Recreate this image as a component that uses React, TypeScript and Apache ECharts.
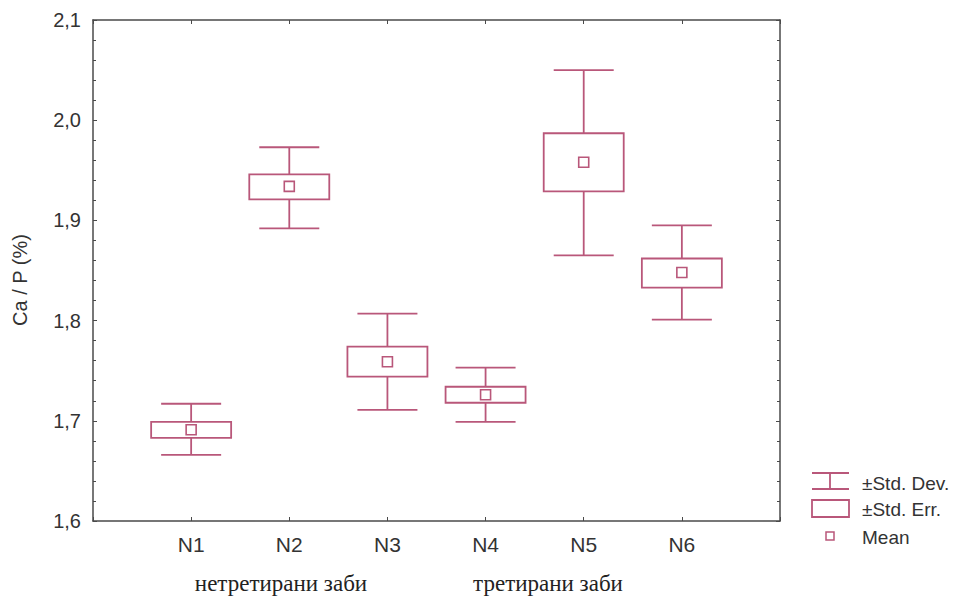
import React, { useEffect, useRef } from "react";
import * as echarts from "echarts";

const categories = ["N1", "N2", "N3", "N4", "N5", "N6"];
const sdLow = [1.666, 1.892, 1.711, 1.699, 1.865, 1.801];
const seLow = [1.683, 1.921, 1.744, 1.718, 1.929, 1.833];
const means = [1.691, 1.934, 1.759, 1.726, 1.958, 1.848];
const seHigh = [1.699, 1.946, 1.774, 1.734, 1.987, 1.862];
const sdHigh = [1.717, 1.973, 1.807, 1.753, 2.05, 1.895];
const groupLabels = ["нетретирани заби", "третирани заби"];
const legendLabels = ["±Std. Dev.", "±Std. Err.", "Mean"];

const COLOR = "#b9577a";
const AXIS = "#4a4a4a";

export default function App() {
  const ref = useRef<HTMLDivElement>(null);
  useEffect(() => {
    if (!ref.current) return;
    const chart = echarts.init(ref.current, null, { renderer: "svg" });
    const data = categories.map((_, i) => [i + 1, sdLow[i], seLow[i], means[i], seHigh[i], sdHigh[i]]);
    const fmtY = (v: number) => v.toFixed(1).replace(".", ",");
    const font = "Liberation Sans";
    chart.setOption({
      animation: false,
      backgroundColor: "#fff",
      grid: { left: 93, right: 177, top: 20, bottom: 77, containLabel: false },
      xAxis: [
        {
          type: "value", position: "bottom", min: 0, max: 7, interval: 1,
          axisLine: { show: true, onZero: false, lineStyle: { color: AXIS, width: 1.5 } },
          axisTick: { show: true, inside: true, length: 4, lineStyle: { color: AXIS } },
          axisLabel: {
            margin: 13, fontSize: 21, color: "#333", fontFamily: font,
            formatter: (v: number) => (v >= 1 && v <= 6 ? categories[v - 1] : ""),
          },
          splitLine: { show: false },
        },
        {
          type: "value", position: "top", min: 0, max: 7, interval: 1,
          axisLine: { show: true, onZero: false, lineStyle: { color: AXIS, width: 1.5 } },
          axisTick: { show: true, inside: true, length: 4, lineStyle: { color: AXIS } },
          axisLabel: { show: false },
          splitLine: { show: false },
        },
      ],
      yAxis: [
        {
          type: "value", position: "left", min: 1.6, max: 2.1, interval: 0.1,
          axisLine: { show: true, onZero: false, lineStyle: { color: AXIS, width: 1.5 } },
          axisTick: { show: true, inside: true, length: 4, lineStyle: { color: AXIS } },
          minorTick: { show: true, splitNumber: 5, length: 3, lineStyle: { color: AXIS } },
          axisLabel: { margin: 12, fontSize: 20, color: "#333", fontFamily: font, formatter: fmtY },
          splitLine: { show: false },
        },
        {
          type: "value", position: "right", min: 1.6, max: 2.1, interval: 0.1,
          axisLine: { show: true, onZero: false, lineStyle: { color: AXIS, width: 1.5 } },
          axisTick: { show: true, inside: true, length: 4, lineStyle: { color: AXIS } },
          minorTick: { show: true, splitNumber: 5, length: 3, lineStyle: { color: AXIS } },
          axisLabel: { show: false },
          splitLine: { show: false },
        },
      ],
      series: [
        {
          type: "custom",
          xAxisIndex: 0,
          yAxisIndex: 0,
          encode: { x: 0, y: [1, 2, 3, 4, 5] },
          data,
          renderItem: (params: any, api: any) => {
            const x = api.value(0);
            const pSdLo = api.coord([x, api.value(1)]);
            const pSeLo = api.coord([x, api.value(2)]);
            const pM = api.coord([x, api.value(3)]);
            const pSeHi = api.coord([x, api.value(4)]);
            const pSdHi = api.coord([x, api.value(5)]);
            const cx = pM[0];
            const capW = 30;
            const boxW = 40;
            const mh = 5;
            const st = { stroke: COLOR, lineWidth: 1.8, fill: "none" };
            return {
              type: "group",
              children: [
                { type: "line", shape: { x1: cx, y1: pSdHi[1], x2: cx, y2: pSeHi[1] }, style: st },
                { type: "line", shape: { x1: cx, y1: pSeLo[1], x2: cx, y2: pSdLo[1] }, style: st },
                { type: "line", shape: { x1: cx - capW, y1: pSdHi[1], x2: cx + capW, y2: pSdHi[1] }, style: st },
                { type: "line", shape: { x1: cx - capW, y1: pSdLo[1], x2: cx + capW, y2: pSdLo[1] }, style: st },
                {
                  type: "rect",
                  shape: { x: cx - boxW, y: pSeHi[1], width: boxW * 2, height: pSeLo[1] - pSeHi[1] },
                  style: { stroke: COLOR, lineWidth: 1.8, fill: "#fff" },
                },
                {
                  type: "rect",
                  shape: { x: cx - mh, y: pM[1] - mh, width: mh * 2, height: mh * 2 },
                  style: { stroke: COLOR, lineWidth: 1.6, fill: "#fff" },
                },
              ],
            };
          },
        },
      ],
      graphic: [
        {
          type: "text", x: 20, y: 280, rotation: Math.PI / 2,
          style: { text: "Ca / P (%)", fontSize: 20, fontFamily: font, fill: "#333", align: "center", verticalAlign: "middle" },
        },
        {
          type: "text", x: 281, y: 583,
          style: { text: groupLabels[0], fontSize: 23, fontFamily: "Liberation Serif", fill: "#222", align: "center", verticalAlign: "middle" },
        },
        {
          type: "text", x: 548, y: 583,
          style: { text: groupLabels[1], fontSize: 23, fontFamily: "Liberation Serif", fill: "#222", align: "center", verticalAlign: "middle" },
        },
        { type: "line", shape: { x1: 812, y1: 473, x2: 849, y2: 473 }, style: { stroke: COLOR, lineWidth: 1.8 } },
        { type: "line", shape: { x1: 812, y1: 489, x2: 849, y2: 489 }, style: { stroke: COLOR, lineWidth: 1.8 } },
        { type: "line", shape: { x1: 830, y1: 473, x2: 830, y2: 489 }, style: { stroke: COLOR, lineWidth: 1.8 } },
        { type: "rect", shape: { x: 812, y: 500, width: 37, height: 17 }, style: { stroke: COLOR, lineWidth: 1.8, fill: "#fff" } },
        { type: "rect", shape: { x: 826, y: 532, width: 8, height: 8 }, style: { stroke: COLOR, lineWidth: 1.5, fill: "#fff" } },
        {
          type: "text", x: 862, y: 483,
          style: { text: legendLabels[0], fontSize: 19, fontFamily: font, fill: "#333", align: "left", verticalAlign: "middle" },
        },
        {
          type: "text", x: 862, y: 509,
          style: { text: legendLabels[1], fontSize: 19, fontFamily: font, fill: "#333", align: "left", verticalAlign: "middle" },
        },
        {
          type: "text", x: 862, y: 537,
          style: { text: legendLabels[2], fontSize: 19, fontFamily: font, fill: "#333", align: "left", verticalAlign: "middle" },
        },
      ],
    });
    return () => chart.dispose();
  }, []);
  return (
    <div
      ref={ref}
      style={{ position: "absolute", left: 0, top: 0, width: 957, height: 598, background: "#fff" }}
    />
  );
}
